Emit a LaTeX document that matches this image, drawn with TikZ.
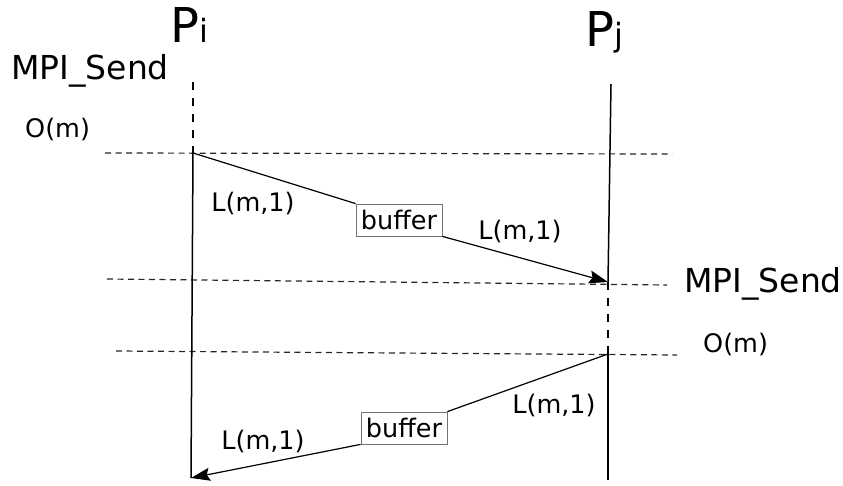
\documentclass[tikz,border=0pt]{standalone}
\usepackage{fontspec}
\setmainfont{DejaVu Sans}
\usetikzlibrary{positioning,arrows.meta}

\begin{document}
\begin{tikzpicture}[
x=1pt, y=-1pt,
font=\fontsize{25.5}{28}\selectfont,
buf/.style={draw=black!55, line width=0.8pt, minimum width=86pt, minimum height=32pt, inner sep=0pt},
lbl/.style={inner sep=0pt},
life/.style={line width=1.5pt},
lifedash/.style={line width=1.5pt, dash pattern=on 8pt off 8pt},
tick/.style={line width=1.2pt, dash pattern=on 6pt off 4.5pt, black!85},
arr/.style={-{Stealth[length=19pt, width=13pt, inset=3pt]}, line width=1.2pt}
]
\useasboundingbox (0,0) rectangle (843,486);

% process labels
\node[lbl, anchor=base west, font=\fontsize{48}{52}\selectfont] (pi) at (170,43) {P{\fontsize{32}{34}\selectfont i}};
\node[lbl, anchor=base west, font=\fontsize{48}{52}\selectfont] (pj) at (585,47) {P{\fontsize{32}{34}\selectfont j}};

% lifeline points
\coordinate (pi top) at (193,82);
\coordinate (pi o) at (193,153);
\coordinate (pi end) at (191,478);
\coordinate (pj top) at (611,84);
\coordinate (pj recv) at (608,282);
\coordinate (pj o) at (608,354);
\coordinate (pj end) at (608,480);

% time marks
\coordinate (h1a) at (105,153);  \coordinate (h1b) at (672,154);
\coordinate (h2a) at (107,279);  \coordinate (h2b) at (667,285);
\coordinate (h3a) at (116,351);  \coordinate (h3b) at (677,355);
\draw[tick] (h1a) -- (h1b);
\draw[tick] (h2a) -- (h2b);
\draw[tick] (h3a) -- (h3b);

\draw[lifedash] (pi top) -- (pi o);
\draw[life] (pi o) -- (pi end);
\draw[life] (pj top) -- (pj recv);
\draw[lifedash] (pj recv) -- (pj o);
\draw[life] (pj o) -- (pj end);

% side notes
\node[lbl, anchor=base west, font=\fontsize{33}{36}\selectfont] (send1) at (11,80) {MPI\_Send};
\node[lbl, anchor=base west] (om1) at (25,138) {O(m)};
\node[lbl, anchor=base west, font=\fontsize{33}{36}\selectfont] (send2) at (684,293) {MPI\_Send};
\node[lbl, anchor=base west] (om2) at (703,352) {O(m)};

% messages
\node[buf] (buf1) at (399,220) {buffer};
\node[buf] (buf2) at (404,428) {buffer};

\draw[line width=1.2pt] (pi o) -- (buf1.north west);
\draw[arr] (buf1.south east) -- (pj recv);
\draw[line width=1.2pt] (pj o) -- (buf2.north east);
\draw[arr] (buf2.south west) -- (pi end);

\node[lbl] (l1) at (253,204) {L(m,1)};
\node[lbl] (l2) at (520,232) {L(m,1)};
\node[lbl] (l3) at (554,406) {L(m,1)};
\node[lbl] (l4) at (263,442) {L(m,1)};
\end{tikzpicture}
\end{document}
